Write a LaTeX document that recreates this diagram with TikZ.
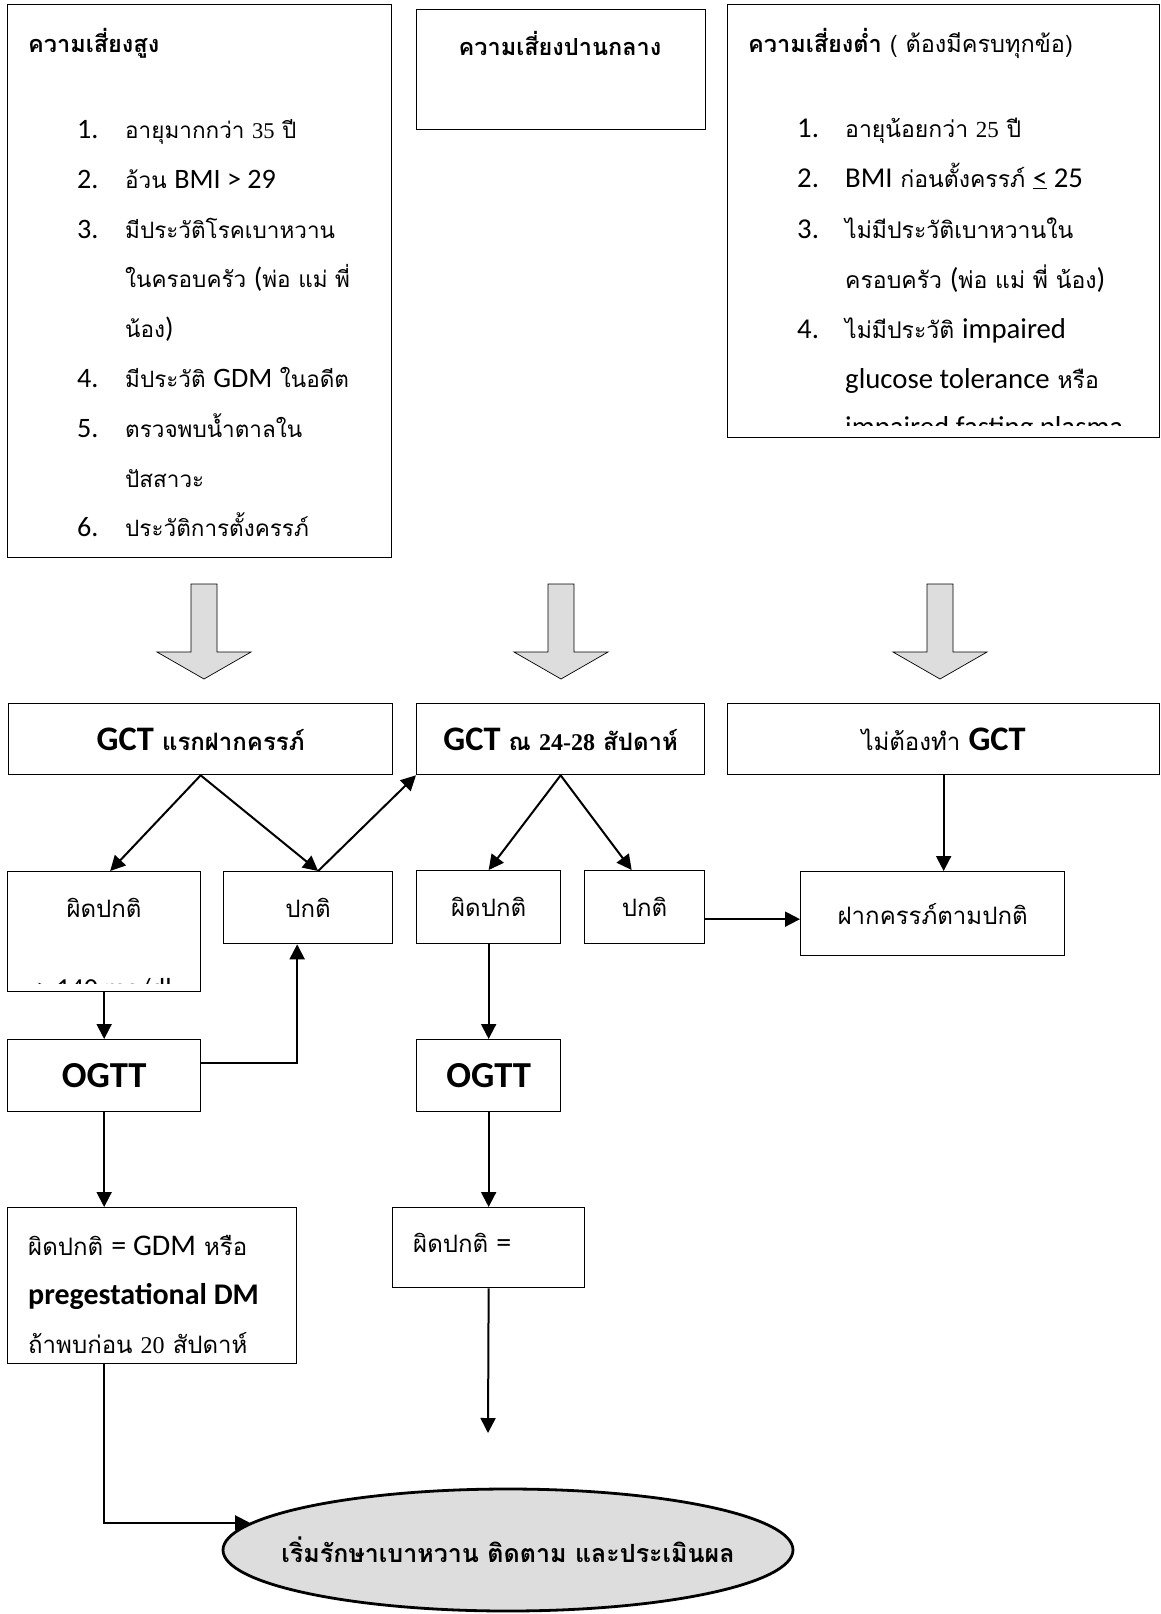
\documentclass[tikz,border=0pt]{standalone}
\usepackage{fontspec}
\setmainfont[Script=Thai]{Loma}
\newfontfamily\lat[Scale=1.25]{Carlito}
\newfontfamily\sr{Liberation Serif}
\usetikzlibrary{arrows.meta,shapes.geometric,positioning}
\definecolor{relleno}{HTML}{DDDDDD}

\tikzset{
  caja/.style 2 args={draw, line width=1.3pt, anchor=north west, inner sep=0pt,
    minimum width=#1, minimum height=#2},
  flecha/.style={line width=2pt, -{Triangle[length=15pt,width=15pt]}},
  txt/.style={anchor=base west, inner sep=0pt},
  item/.style={font=\fontsize{22.5}{26}\selectfont},
  itemd/.style={font=\fontsize{23}{26}\selectfont},
  titulo/.style={font=\fontsize{23.5}{26}\selectfont},
  titulob/.style={font=\fontsize{23.5}{26}\selectfont\bfseries},
  fila/.style={font=\fontsize{24}{26}\selectfont},
  filab/.style={font=\fontsize{24}{26}\selectfont\bfseries},
}
\newcommand\gct{{\lat\bfseries\fontsize{27.5}{30}\selectfont GCT}}

\begin{document}
\begin{tikzpicture}[x=1pt,y=-1pt]
  \useasboundingbox (0,0) rectangle (1160,1614);

  % Cajas de riesgo
  \node[caja={384pt}{553pt}] (alto) at (7,4) {};
  \node[caja={289pt}{120pt}] (medio) at (416,9) {};
  \node[caja={432pt}{433pt}] (bajo) at (727,4) {};

  \node[txt, titulob] (talto) at (28,52) {ความเสี่ยงสูง};
  \node[anchor=base, inner sep=0pt, titulob] (tmedio) at (560,55) {ความเสี่ยงปานกลาง};
  \node[txt, titulo] (tbajo) at (748,52) {\textbf{ความเสี่ยงต่ำ} ( ต้องมีครบทุกข้อ)};

  % Lista de riesgo alto
  \foreach \n/\y in {1/138,2/188,3/238,4/387,5/437,6/536}
    \node[txt, item] (na\n) at (77,\y) {\lat\n.};
  \node[txt, item] (a1) at (125,138) {อายุมากกว่า {\sr 35} ปี};
  \node[txt, item] (a2) at (125,188) {อ้วน {\lat BMI > 29}};
  \node[txt, item] (a3) at (125,238) {มีประวัติโรคเบาหวาน};
  \node[txt, item] (a3b) at (125,287) {ในครอบครัว {\lat(}พ่อ แม่ พี่};
  \node[txt, item] (a3c) at (125,337) {น้อง{\lat)}};
  \node[txt, item] (a4) at (125,387) {มีประวัติ {\lat GDM} ในอดีต};
  \node[txt, item] (a5) at (125,437) {ตรวจพบน้ำตาลใน};
  \node[txt, item] (a5b) at (125,487) {ปัสสาวะ};
  \node[txt, item] (a6) at (125,536) {ประวัติการตั้งครรภ์};

  % Lista de riesgo bajo
  \foreach \n/\y in {1/137,2/187,3/238,4/338}
    \node[txt, itemd] (nb\n) at (797,\y) {\lat\n.};
  \node[txt, itemd] (b1) at (845,137) {อายุน้อยกว่า {\sr 25} ปี};
  \node[txt, itemd] (b2) at (845,187) {{\lat BMI} ก่อนตั้งครรภ์ {\lat\underline{<} 25}};
  \node[txt, itemd] (b3) at (845,238) {ไม่มีประวัติเบาหวานใน};
  \node[txt, itemd] (b3b) at (845,288) {ครอบครัว {\lat(}พ่อ แม่ พี่ น้อง{\lat)}};
  \node[txt, itemd] (b4) at (845,338) {ไม่มีประวัติ {\lat impaired}};
  \node[txt, itemd] (b4b) at (845,388) {{\lat glucose tolerance} หรือ};
  \begin{scope}
    \clip (727,4) rectangle (1159,425);
    \node[txt, itemd] (b4c) at (845,436) {\lat impaired fasting plasma};
  \end{scope}

  % Flechas gruesas
  \foreach \cx in {204,561,940}
    \filldraw[fill=relleno, line width=0.7pt] (\cx-13,584) -- (\cx+13,584) -- (\cx+13,652)
      -- (\cx+47,652) -- (\cx,679) -- (\cx-47,652) -- (\cx-13,652) -- cycle;

  % Segunda fila
  \node[caja={384pt}{71pt}, filab] (gct1) at (8,703) {\gct{} แรกฝากครรภ์};
  \node[caja={288pt}{71pt}, filab] (gct2) at (416,703) {\gct{} ณ {\sr 24-28} สัปดาห์};
  \node[caja={432pt}{71pt}, fila] (nogct) at (727,703) {ไม่ต้องทำ \gct};

  % Tercera fila
  \node[caja={193pt}{120pt}] (anor1) at (7,871) {};
  \node[anchor=base, inner sep=0pt, fila] (tanor1) at (104,917) {ผิดปกติ};
  \begin{scope}
    \clip (7,871) rectangle (200,983);
    \node[anchor=base, inner sep=0pt, font=\lat\fontsize{22}{24}\selectfont] (mg) at (104,997) {> 140 mg/dl};
  \end{scope}
  \node[caja={169pt}{72pt}, fila] (nor1) at (223,871) {ปกติ};
  \node[caja={144pt}{73pt}, fila] (anor2) at (416,870) {ผิดปกติ};
  \node[caja={120pt}{73pt}, fila] (nor2) at (584,870) {ปกติ};
  \node[caja={264pt}{84pt}, fila] (anc) at (800,871) {ฝากครรภ์ตามปกติ\rule{0pt}{22pt}};

  % OGTT
  \node[caja={193pt}{72pt}, font=\lat\bfseries\fontsize{29.3}{32}\selectfont] (ogtt1) at (7,1039) {OGTT};
  \node[caja={144pt}{72pt}, font=\lat\bfseries\fontsize{29.3}{32}\selectfont] (ogtt2) at (416,1039) {OGTT};

  % Resultados
  \node[caja={289pt}{156pt}] (gdm) at (7,1207) {};
  \node[txt, font=\fontsize{24}{28}\selectfont] (g1) at (28,1255) {ผิดปกติ {\lat = GDM} หรือ};
  \node[txt, font=\lat\bfseries\fontsize{24}{28}\selectfont] (g2) at (28,1304) {pregestational DM};
  \node[txt, font=\fontsize{24}{28}\selectfont] (g3) at (28,1353) {ถ้าพบก่อน {\sr 20} สัปดาห์};
  \node[caja={192pt}{80pt}] (anor3) at (392,1207) {};
  \node[txt, font=\fontsize{24}{28}\selectfont] (g4) at (413,1252) {ผิดปกติ {\lat =}};

  % Elipse final
  \node[ellipse, draw, fill=relleno, line width=2.8pt, inner sep=0pt,
    minimum width=570pt, minimum height=122pt] (fin) at (508,1550) {};
  \node[font=\fontsize{25}{28}\selectfont\bfseries] (tfin) at (fin.center) {เริ่มรักษาเบาหวาน ติดตาม และประเมินผล};

  % Conectores
  \coordinate (hueco) at (488,1433);
  \draw[flecha] (gct1.south) -- ([xshift=6pt]anor1.north);
  \draw[flecha] (gct1.south) -- ([xshift=10pt]nor1.north);
  \draw[flecha] ([xshift=10pt]nor1.north) -- (gct2.south west);
  \draw[flecha] (gct2.south) -- (anor2.north);
  \draw[flecha] (gct2.south) -- ([xshift=-13pt]nor2.north);
  \draw[flecha] (nogct.south) -- (nogct.south |- anc.north);
  \draw[flecha] ([yshift=-12pt]nor2.east) -- ([yshift=-12pt]nor2.east -| anc.west);
  \draw[flecha] (anor1.south) -- (ogtt1.north);
  \draw[flecha] ([yshift=13pt]ogtt1.east) -| ([xshift=-11pt]nor1.south);
  \draw[flecha] (ogtt1.south) -- (gdm.north -| ogtt1.south);
  \draw[flecha] (anor2.south) -- (ogtt2.north);
  \draw[flecha] (ogtt2.south) -- (ogtt2.south |- anor3.north);
  \draw[flecha] (anor3.south -| ogtt2.south) -- (hueco);
  \draw[flecha] (gdm.south -| ogtt1.south) |- (fin.174);
\end{tikzpicture}
\end{document}
